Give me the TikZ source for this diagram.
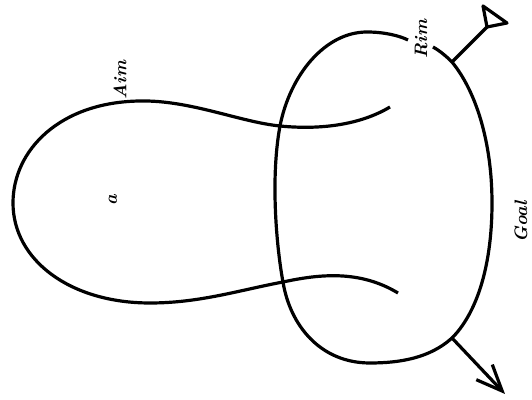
\documentclass[tikz,border=0pt]{standalone}
\usetikzlibrary{arrows.meta}
\begin{document}
\begin{tikzpicture}[x=0.5pt,y=-0.5pt,line width=1.6pt,
  lbl/.style={rotate=90,inner sep=0pt,font=\small\bfseries\itshape}]
\useasboundingbox (0,0) rectangle (532,400);

\draw (390,107) .. controls (360,125) and (320,130) .. (280,126)
  .. controls (240,122) and (190,100) .. (140,101)
  .. controls (60,102) and (13,150) .. (13,203)
  .. controls (13,260) and (70,303) .. (150,303)
  .. controls (200,303) and (240,290) .. (283,282)
  .. controls (320,274) and (360,270) .. (398,293);

\coordinate (rimend) at (452,62);
\coordinate (goalend) at (452,338);
\draw (433,47) .. controls (440,51) and (446,56) .. (rimend)
  .. controls (475,90) and (492,140) .. (492,203)
  .. controls (492,270) and (475,315) .. (goalend)
  .. controls (430,358) and (400,363) .. (370,363)
  .. controls (320,363) and (290,325) .. (283,282)
  .. controls (277,250) and (270,180) .. (280,126)
  .. controls (290,75) and (325,32) .. (367,32)
  .. controls (385,32) and (400,36) .. (408,40);

\coordinate (flag) at (487,27);
\draw (rimend) -- (flag);
\draw[line join=round] (flag) -- (483,6) -- (507,23) -- cycle;

\coordinate (tip) at (505,394);
\draw[-{Straight Barb[length=13pt,width=11pt]}] (goalend) -- (tip);

\node[lbl] (aim) at (120,80) {Aim};
\node[lbl] (rim) at (421,39) {Rim};
\node[lbl] (a) at (113,200) {a};
\node[lbl] (goal) at (521,222) {Goal};
\end{tikzpicture}
\end{document}
